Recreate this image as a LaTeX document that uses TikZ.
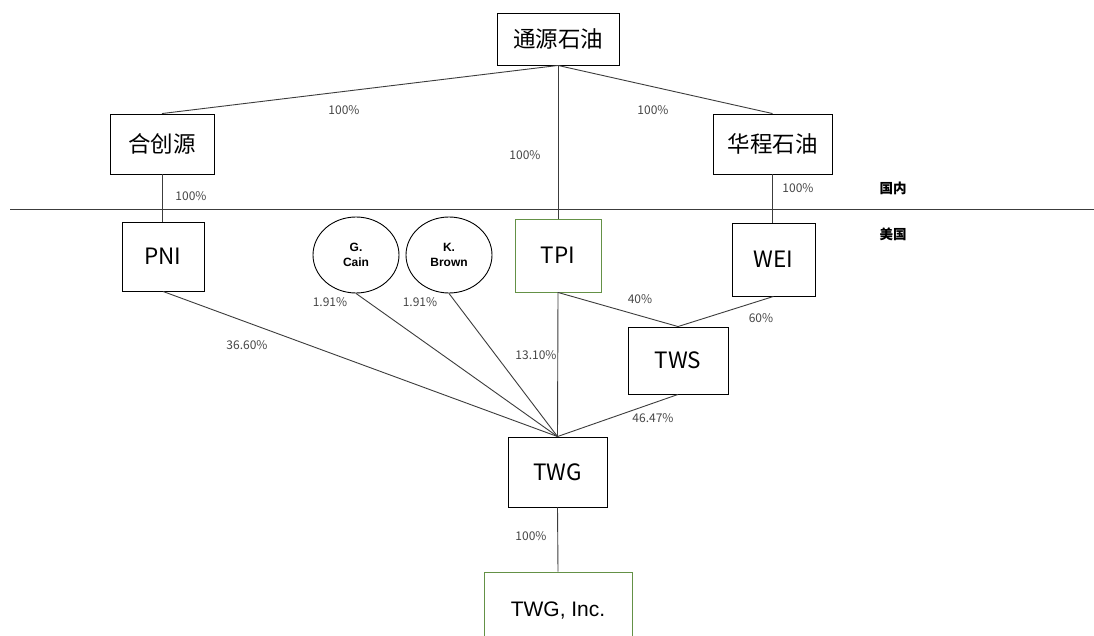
\documentclass[tikz,border=0pt]{standalone}
\usepackage{fontspec}
\setmainfont{Noto Sans CJK SC}
\newfontfamily\cjk{Noto Sans CJK SC}
\newfontfamily\arialf{Liberation Sans}
\usetikzlibrary{shapes.geometric}
\definecolor{boxgreen}{RGB}{100,145,70}
\definecolor{linegray}{RGB}{60,60,60}
\definecolor{pctgray}{RGB}{70,70,70}
\begin{document}
\begin{tikzpicture}[x=1pt,y=-1pt,
  box/.style={draw=black,line width=0.9pt,rectangle,inner sep=0pt,font=\cjk\fontsize{22.5}{24}\selectfont},
  gbox/.style={box,draw=boxgreen},
  person/.style={draw=black,line width=0.9pt,ellipse,inner sep=0pt,minimum width=86pt,minimum height=76pt,align=center,font=\arialf\bfseries\fontsize{12}{15}\selectfont},
  link/.style={draw=linegray,line width=0.9pt},
  pct/.style={font=\cjk\fontsize{12}{13}\selectfont,text=pctgray,inner sep=0pt},
  region/.style={font=\cjk\bfseries\fontsize{13.5}{14}\selectfont,inner sep=0pt}]
\useasboundingbox (0,0) rectangle (1094,636);
\clip (0,0) rectangle (1094,636);
\fill[white] (0,0) rectangle (1094,636);

\node[box,minimum width=122pt,minimum height=52pt] (ty) at (558,39) {通源石油};
\node[box,minimum width=104pt,minimum height=60pt] (hcy) at (162,144) {合创源};
\node[box,minimum width=119pt,minimum height=60pt] (hc) at (772.5,144) {华程石油};
\node[box,minimum width=82pt,minimum height=69pt] (pni) at (163,256.5) {PNI};
\node[gbox,minimum width=86pt,minimum height=73pt] (tpi) at (558,255.5) {TPI};
\node[box,minimum width=83pt,minimum height=73pt] (wei) at (773.5,259.5) {WEI};
\node[box,minimum width=100pt,minimum height=67pt] (tws) at (678,360.5) {TWS};
\node[box,minimum width=99pt,minimum height=70pt] (twg) at (557.5,472) {TWG};
\node[gbox,minimum width=148pt,minimum height=80pt,font=\arialf\fontsize{21}{23}\selectfont] (inc) at (558,612) {\raisebox{5pt}{TWG, Inc.}};
\node[person] (gc) at (356,255) {G.\\Cain};
\node[person] (kb) at (449,255) {K.\\Brown};

\coordinate (sepL) at (10,209.5);
\coordinate (sepR) at (1094,209.5);
\draw[link] (sepL) -- (sepR);

\draw[link] (ty.south) -- (hcy.north);
\draw[link] (ty.south) -- (hc.north);
\draw[link] (ty.south) -- (tpi.north);
\draw[link] (hcy.south) -- (hcy.south |- pni.north);
\draw[link] (hc.south) -- (hc.south |- wei.north);
\draw[link] (tpi.south) -- (tws.north);
\draw[link] (wei.south) -- (tws.north);
\draw[link] (pni.south) -- (twg.north);
\draw[link] (gc.south) -- (twg.north);
\draw[link] (kb.south) -- (twg.north);
\draw[link] (tpi.south) -- (twg.north);
\draw[link] (tws.south) -- (twg.north);
\draw[link] (twg.south) -- (inc.north);

\node[pct] (p1) at (344,110) {100\%};
\node[pct] (p2) at (653,110) {100\%};
\node[pct] (p3) at (525,155) {100\%};
\node[pct] (p4) at (191,196) {100\%};
\node[pct] (p5) at (798,188) {100\%};
\node[pct] (p6) at (640,299) {40\%};
\node[pct] (p7) at (761,318) {60\%};
\node[pct] (p8) at (247,345) {36.60\%};
\node[pct] (p9) at (330,302) {1.91\%};
\node[pct] (p10) at (420,302) {1.91\%};
\node[pct] (p11) at (536,355) {13.10\%};
\node[pct] (p12) at (653,418) {46.47\%};
\node[pct] (p13) at (531,536) {100\%};

\node[region] (gn) at (893,188) {国内};
\node[region] (mg) at (893,234) {美国};
\end{tikzpicture}
\end{document}
